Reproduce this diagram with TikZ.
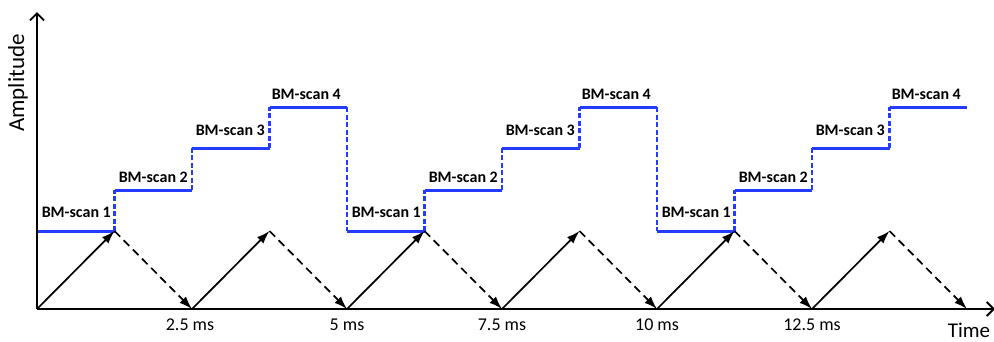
\documentclass[tikz,border=0pt]{standalone}
\usepackage{fontspec}
\setmainfont{Carlito}
\usetikzlibrary{arrows.meta}
\definecolor{stairblue}{RGB}{35,60,255}
\begin{document}
\begin{tikzpicture}[x=1pt,y=-1pt,
  axisline/.style={line width=2.8pt,-{Straight Barb[length=7pt,width=14pt,line width=1.8pt]}},
  stairline/.style={stairblue,line width=3pt},
  stairdash/.style={stairblue,line width=2.2pt,dash pattern=on 5pt off 2.5pt},
  uparrow/.style={line width=1.7pt,-{Latex[length=13pt,width=9pt]}},
  downarrow/.style={line width=1.7pt,dash pattern=on 8pt off 5pt,-{Latex[length=13pt,width=9pt]}},
  scanlbl/.style={font=\fontsize{16}{18}\selectfont\bfseries,inner sep=0pt,anchor=east},
  ticklbl/.style={font=\fontsize{18}{20}\selectfont,inner sep=0pt}]
\useasboundingbox (0,0) rectangle (994,341);

% base and peak points
\foreach \i in {0,...,6} \coordinate (b\i) at ({37+155*\i},309);
\foreach \i in {1,...,6} \coordinate (p\i) at ({114.5+155*(\i-1)},231);

% staircase points for each of three periods
\foreach \k in {0,1,2}{
  \pgfmathsetmacro{\s}{37+310*\k}
  \coordinate (s\k-a) at (\s,231);
  \coordinate (s\k-b) at ({\s+77.5},190);
  \coordinate (s\k-c) at ({\s+155},190);
  \coordinate (s\k-d) at ({\s+155},148);
  \coordinate (s\k-e) at ({\s+232.5},148);
  \coordinate (s\k-f) at ({\s+232.5},107);
  \coordinate (s\k-g) at ({\s+310},107);
}
\coordinate (s0-h) at (347,231);
\coordinate (s1-h) at (657,231);

% staircases
\foreach \k/\pa/\pb in {0/p1/p2,1/p3/p4,2/p5/p6}{
  \draw[stairline] (s\k-a) -- (\pa);
  \draw[stairdash] (\pa) -- (s\k-b);
  \draw[stairline] (s\k-b) -- (s\k-c);
  \draw[stairdash] (s\k-c) -- (s\k-d);
  \draw[stairline] (s\k-d) -- (s\k-e);
  \draw[stairdash] (s\k-e) -- (s\k-f);
  \draw[stairline] (s\k-f) -- (s\k-g);
}
\draw[stairdash] (s0-g) -- (s0-h);
\draw[stairdash] (s1-g) -- (s1-h);

% labels
\foreach \k in {0,1,2}{
  \pgfmathsetmacro{\s}{37+310*\k}
  \node[scanlbl] (m\k-a) at ({\s+74},212) {BM-scan 1};
  \node[scanlbl] (m\k-b) at ({\s+151},177) {BM-scan 2};
  \node[scanlbl] (m\k-c) at ({\s+228},130) {BM-scan 3};
  \node[scanlbl] (m\k-d) at ({\s+304},94) {BM-scan 4};
}

% triangle arrows
\foreach \i [evaluate=\i as \j using int(\i-1)] in {1,...,6}{
  \draw[uparrow] (b\j) -- (p\i);
  \draw[downarrow] (p\i) -- (b\i);
}

% axes
\coordinate (o) at (37,309);
\coordinate (ytop) at (37,12);
\coordinate (xend) at (995,309);
\draw[axisline] (o) -- (ytop);
\draw[axisline] (o) -- (xend);

% tick labels
\node[ticklbl] (t1) at (190,325) {2.5 ms};
\node[ticklbl] (t2) at (347,325) {5 ms};
\node[ticklbl] (t3) at (502,325) {7.5 ms};
\node[ticklbl] (t4) at (657,325) {10 ms};
\node[ticklbl] (t5) at (812,325) {12.5 ms};
\node[font=\fontsize{21}{23}\selectfont,inner sep=0pt] (tm) at (969,330) {Time};
\node[font=\fontsize{23}{25}\selectfont,inner sep=0pt,rotate=90] (am) at (18,83) {Amplitude};
\end{tikzpicture}
\end{document}
